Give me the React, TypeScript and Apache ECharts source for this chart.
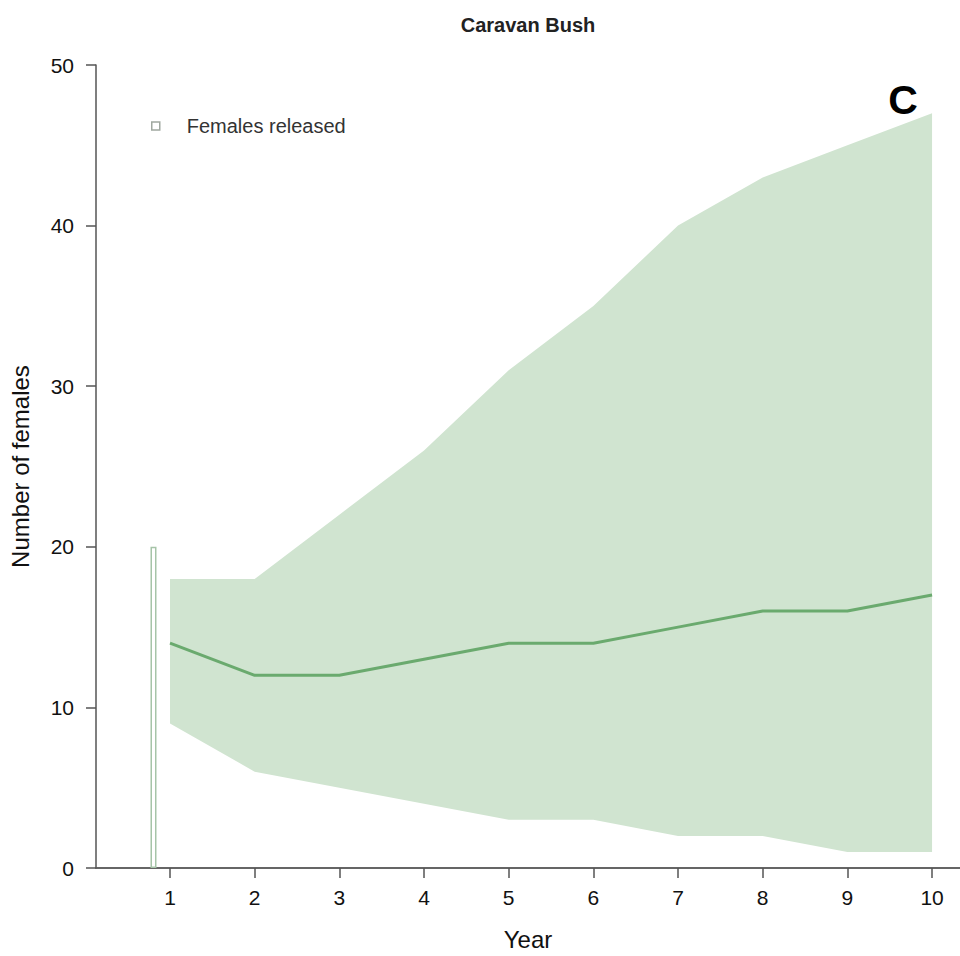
import React, { useEffect, useRef } from "react";
import * as echarts from "echarts";

const years = [1, 2, 3, 4, 5, 6, 7, 8, 9, 10];
const median = [14, 12, 12, 13, 14, 14, 15, 16, 16, 17];
const upper = [18, 18, 22, 26, 31, 35, 40, 43, 45, 47];
const lower = [9, 6, 5, 4, 3, 3, 2, 2, 1, 1];
const releaseYear = [0.805];
const released = [20];
const yTicks = [0, 10, 20, 30, 40, 50];

export default function App() {
  const ref = useRef<HTMLDivElement>(null);
  useEffect(() => {
    const chart = echarts.init(ref.current!, null, { renderer: "svg" });
    const axisColor = "#555";
    const font = "Liberation Sans";
    const option: any = {
      animation: false,
      backgroundColor: "#ffffff",
      grid: { left: 96, right: 0, top: 65, bottom: 86, containLabel: false },
      legend: {
        show: true,
        left: 146,
        top: 111,
        itemWidth: 8,
        itemHeight: 8,
        icon: "rect",
        data: [
          {
            name: "Females released",
            itemStyle: { color: "#ffffff", borderColor: "#a0a8a0", borderWidth: 1.5 },
          },
        ],
        textStyle: { fontSize: 20, color: "#333", fontFamily: font, padding: [0, 0, 0, 22] },
      },
      graphic: [
        {
          type: "text",
          x: 528,
          y: 25,
          style: {
            text: "Caravan Bush",
            fontSize: 20,
            fontWeight: "bold",
            fill: "#222",
            fontFamily: font,
            textAlign: "center",
            textVerticalAlign: "middle",
          },
        },
        {
          type: "text",
          x: 903,
          y: 100,
          style: {
            text: "C",
            fontSize: 41,
            fontWeight: "bold",
            fill: "#000",
            fontFamily: font,
            textAlign: "center",
            textVerticalAlign: "middle",
          },
        },
      ],
      xAxis: [
        {
          type: "value",
          min: 0.126,
          max: 10.33,
          name: "Year",
          nameLocation: "middle",
          nameGap: 59,
          nameTextStyle: { fontSize: 24, color: "#111", fontFamily: font },
          axisLine: { show: true, onZero: false, lineStyle: { color: "#777", width: 1.5 } },
          axisTick: { show: true, length: 10, customValues: years, lineStyle: { color: axisColor, width: 1.5 } },
          axisLabel: { customValues: years, fontSize: 21, color: "#111", margin: 19, fontFamily: font },
          splitLine: { show: false },
        },
        {
          type: "value",
          position: "top",
          min: 0.126,
          max: 10.33,
          axisLine: { show: true, lineStyle: { color: axisColor, width: 1.5 } },
          axisTick: { show: false },
          axisLabel: { show: false },
          splitLine: { show: false },
        },
      ],
      yAxis: {
        type: "value",
        min: 0,
        max: 50,
        interval: 10,
        name: "Number of females",
        nameLocation: "middle",
        nameGap: 64,
        nameTextStyle: { fontSize: 24, color: "#111", fontFamily: font },
        axisLine: { show: true, lineStyle: { color: axisColor, width: 1.5 } },
        axisTick: { show: true, length: 10, lineStyle: { color: axisColor, width: 1.5 } },
        axisLabel: { fontSize: 21, color: "#111", margin: 22, fontFamily: font, customValues: yTicks },
        splitLine: { show: false },
      },
      series: [
        {
          type: "custom",
          name: "band",
          data: [[0]],
          silent: true,
          z: 1,
          renderItem: (params: any, api: any) => {
            const pts: number[][] = [];
            for (let i = 0; i < years.length; i++) pts.push(api.coord([years[i], upper[i]]));
            for (let i = years.length - 1; i >= 0; i--) pts.push(api.coord([years[i], lower[i]]));
            return {
              type: "polygon",
              shape: { points: pts },
              style: { fill: "#d0e4d0", stroke: "none" },
            };
          },
        },
        {
          type: "line",
          name: "median",
          data: years.map((y, i) => [y, median[i]]),
          showSymbol: false,
          z: 3,
          lineStyle: { color: "#6aaa6e", width: 3 },
        },
        {
          type: "bar",
          name: "Females released",
          data: releaseYear.map((x, i) => [x, released[i]]),
          barWidth: 6,
          z: 2,
          itemStyle: { color: "#ffffff", borderColor: "#a6c4a8", borderWidth: 1.5 },
        },
      ],
    };
    chart.setOption(option);
    return () => chart.dispose();
  }, []);
  return (
    <div
      ref={ref}
      style={{ position: "fixed", left: 0, top: 0, width: 960, height: 956 }}
    />
  );
}
